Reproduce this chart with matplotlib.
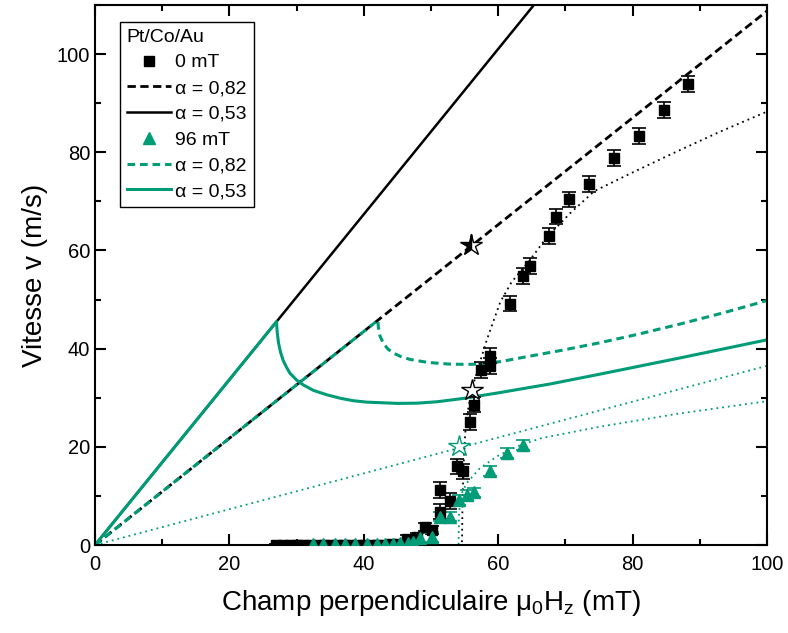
import matplotlib
matplotlib.use("Agg")
import matplotlib.pyplot as plt
from matplotlib.lines import Line2D
from matplotlib.ticker import MultipleLocator

GREEN = "#009b77"

# measured points, 0 mT in-plane field (black squares)
h0 = [27.0, 28.0, 29.0, 30.0, 31.0, 32.0, 33.0, 34.0, 35.0, 36.0, 37.0, 38.0,
      39.0, 40.0, 41.0, 42.0, 43.0, 44.0, 45.0, 46.4, 47.9, 49.1, 50.1, 51.3,
      51.4, 52.8, 53.9, 54.7, 55.8, 56.4, 57.4, 58.8, 58.8, 61.8, 63.7, 64.7,
      67.6, 68.6, 70.6, 73.5, 77.2, 80.9, 84.6, 88.2]
v0 = [0.0, 0.0, 0.0, 0.0, 0.0, 0.0, 0.0, 0.0, 0.0, 0.0, 0.0, 0.0,
      0.0, 0.0, 0.1, 0.1, 0.1, 0.2, 0.3, 1.2, 1.7, 3.7, 3.1, 6.8,
      11.2, 9.0, 16.0, 15.0, 25.0, 28.6, 35.7, 36.5, 38.6, 49.2, 54.8, 56.8,
      62.9, 66.9, 70.4, 73.5, 78.8, 83.3, 88.6, 93.9]
v0_err = [0.3] * 19 + [0.8] * 4 + [1.6] * 21

# measured points, 96 mT in-plane field (green triangles)
h96 = [32.4, 33.9, 35.7, 37.2, 38.7, 40.4, 41.9, 43.2, 44.3, 45.4, 46.5, 47.3,
       48.4, 50.2, 51.3, 52.8, 54.1, 55.3, 56.4, 58.8, 61.3, 63.7]
v96 = [0.2, 0.2, 0.2, 0.2, 0.2, 0.2, 0.2, 0.3, 0.3, 0.4, 0.5, 0.7,
       1.4, 1.7, 5.8, 5.8, 9.2, 10.2, 10.7, 15.0, 18.8, 20.4]
v96_err = [0.3] * 12 + [1.0] * 10

# 1D model curves, 0 mT
b_solid_h = [0, 65.3]
b_solid_v = [0, 110]
b_dash_h = [0, 100]
b_dash_v = [0, 108.8]
b_dot_h = [0, 54.6, 54.7, 54.9, 55.1, 55.5, 56.05, 57.0, 58.3, 60.3, 62.0,
           64.7, 67.0, 70.7, 74.3, 80.0, 86.0, 93.0, 100]
b_dot_v = [0, 0, 10, 18, 23, 27.5, 31.6, 36.0, 41.8, 49.5, 53.6,
           58.0, 62.3, 67.6, 72.1, 75.9, 79.8, 84.2, 88.3]

# 1D model curves, 96 mT
g_solid_h = [0, 27.0, 27.1, 27.3, 27.6, 28.0, 28.5, 29.0, 30.0, 31.0, 32.5,
             34.5, 36.5, 38.4, 40.5, 42.4, 45.0, 48.0, 51.0, 55.0, 60.0, 67.7,
             75.1, 87.0, 100]
g_solid_v = [0, 45.5, 43.5, 41.2, 39.3, 37.6, 36.2, 35.0, 33.6, 32.6, 31.5,
             30.6, 29.9, 29.4, 29.1, 29.0, 28.85, 28.9, 29.2, 29.9, 31.0, 32.8,
             34.8, 38.1, 41.8]
g_dash_h = [0, 42.1, 42.15, 42.4, 42.9, 43.6, 44.4, 45.5, 46.9, 49.5, 52.8,
            55.5, 57.8, 60.5, 63.2, 69.2, 75.1, 81.0, 87.0, 93.5, 100]
g_dash_v = [0, 45.8, 44.5, 42.6, 41.1, 39.9, 39.1, 38.4, 37.8, 37.2, 36.85,
            36.8, 36.9, 37.4, 38.1, 39.6, 41.2, 43.0, 45.0, 47.3, 49.8]
g_dot1_h = [0, 100]
g_dot1_v = [0, 36.5]
g_dot2_h = [0, 54.1, 54.15, 54.4, 55.3, 57.3, 60.0, 63.0, 66.5, 75.1, 87.0, 100]
g_dot2_v = [0, 0, 6, 10, 12.6, 15.7, 18.2, 20.2, 21.8, 24.1, 26.8, 29.3]

# Walker field markers
star_h = [55.9, 56.05, 54.1]
star_v = [61.2, 31.6, 20.1]

plt.rcParams["font.family"] = ["Liberation Sans", "DejaVu Sans"]
plt.rcParams["mathtext.default"] = "regular"

fig = plt.figure(figsize=(7.88, 6.33), dpi=100)
ax = fig.add_axes([0.1206, 0.139, 0.8528, 0.853])

dot = (0, (1, 2.2))
ax.plot(b_solid_h, b_solid_v, color="black", lw=1.8)
ax.plot(b_dash_h, b_dash_v, color="black", lw=2.0, ls=(0, (3, 1.6)))
ax.plot(b_dot_h, b_dot_v, color="black", lw=1.3, ls=dot)
ax.plot(g_dot1_h, g_dot1_v, color=GREEN, lw=1.3, ls=dot)
ax.plot(g_dot2_h, g_dot2_v, color=GREEN, lw=1.3, ls=dot)
ax.plot(g_solid_h, g_solid_v, color=GREEN, lw=2.2)
ax.plot(g_dash_h, g_dash_v, color=GREEN, lw=2.2, ls=(0, (2.5, 1.6)))

ax.errorbar(h0, v0, yerr=v0_err, fmt="s", color="black", ms=7.5,
            elinewidth=1.2, capsize=5, capthick=1.2, zorder=4)
ax.errorbar(h96, v96, yerr=v96_err, fmt="^", color=GREEN, ms=9,
            elinewidth=1.2, capsize=5, capthick=1.2, zorder=4)

ax.plot(star_h[0], star_v[0], marker="*", ms=16, color="black",
        fillstyle="left", markerfacecoloralt="white", mew=1.0, zorder=5)
ax.plot(star_h[1], star_v[1], marker="*", ms=16, mfc="white", mec="black",
        mew=1.0, ls="none", zorder=5)
ax.plot(star_h[2], star_v[2], marker="*", ms=16, mfc="white", mec=GREEN,
        mew=1.0, ls="none", zorder=5)

ax.set_xlim(0, 100)
ax.set_ylim(0, 110)
ax.xaxis.set_major_locator(MultipleLocator(20))
ax.xaxis.set_minor_locator(MultipleLocator(10))
ax.yaxis.set_major_locator(MultipleLocator(20))
ax.yaxis.set_minor_locator(MultipleLocator(10))
ax.tick_params(which="both", direction="in", top=True, right=True,
               width=1.5, labelsize=14.5)
ax.tick_params(which="major", length=8)
ax.tick_params(which="minor", length=4)
ax.tick_params(axis="x", pad=7)
for sp in ax.spines.values():
    sp.set_linewidth(1.5)

ax.set_xlabel("Champ perpendiculaire μ$_0$H$_z$ (mT)", fontsize=20, labelpad=10)
ax.set_ylabel("Vitesse v (m/s)", fontsize=20, labelpad=6)

handles = [
    Line2D([], [], ls="none", marker="s", color="black", ms=7.5),
    Line2D([], [], color="black", lw=2.0, ls=(0, (3, 1.6))),
    Line2D([], [], color="black", lw=1.8),
    Line2D([], [], ls="none", marker="^", color=GREEN, ms=9),
    Line2D([], [], color=GREEN, lw=2.2, ls=(0, (2.5, 1.6))),
    Line2D([], [], color=GREEN, lw=2.2),
]
labels = ["0 mT", "α = 0,82", "α = 0,53", "96 mT", "α = 0,82", "α = 0,53"]
leg = ax.legend(handles, labels, title="Pt/Co/Au", loc="upper left",
                bbox_to_anchor=(0.037, 0.969), fontsize=14, title_fontsize=14,
                alignment="left", handlelength=2.3, handletextpad=0.2,
                labelspacing=0.42, borderpad=0.35, borderaxespad=0,
                fancybox=False, framealpha=1, edgecolor="black")
leg.get_frame().set_linewidth(1.0)

fig.savefig("out.png", dpi=100)
